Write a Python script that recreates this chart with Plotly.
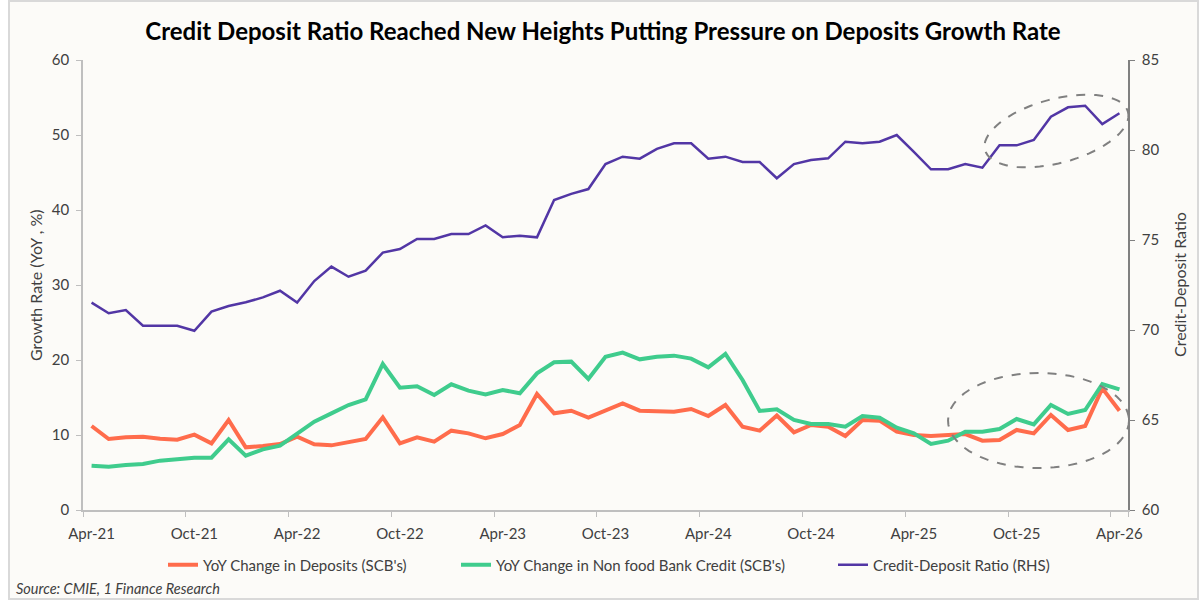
import math
import pandas as pd
import plotly.graph_objects as go

# ---------------- data ----------------
months = [d.strftime("%b-%y") for d in pd.date_range("2021-04-01", "2026-04-01", freq="MS")]
tick_labels = ["Apr-21", "Oct-21", "Apr-22", "Oct-22", "Apr-23", "Oct-23",
               "Apr-24", "Oct-24", "Apr-25", "Oct-25", "Apr-26"]

deposits_yoy = [11.2, 9.47, 9.69, 9.78, 9.51, 9.38, 10.04, 8.89, 12.0, 8.36,
                8.53, 8.8, 9.78, 8.76, 8.62, 9.11, 9.47, 12.36, 8.89, 9.7,
                9.11, 10.58, 10.22, 9.56, 10.13, 11.33, 15.47, 12.89, 13.24, 12.31,
                13.24, 14.22, 13.24, 13.24, 13.11, 13.47, 12.53, 14.0, 11.11, 10.58,
                12.6, 10.36, 11.33, 11.11, 9.87, 12.0, 11.91, 10.44, 10.0, 9.87,
                10.0, 10.13, 9.24, 9.33, 10.67, 10.22, 12.67, 10.67, 11.2, 16.22,
                13.24]

credit_yoy = [5.91, 5.78, 6.0, 6.13, 6.58, 6.76, 6.98, 6.98, 9.42, 7.24,
              8.09, 8.58, 10.22, 11.78, 12.89, 14.0, 14.76, 19.47, 16.31, 16.5,
              15.33, 16.76, 15.91, 15.42, 16.0, 15.56, 18.22, 19.69, 19.78, 17.47,
              20.44, 20.98, 20.09, 20.44, 20.58, 20.18, 19.02, 20.8, 17.33, 13.2,
              13.42, 12.0, 11.47, 11.47, 11.11, 12.53, 12.31, 10.98, 10.22, 8.8,
              9.24, 10.44, 10.44, 10.8, 12.13, 11.42, 14.0, 12.8, 13.33, 16.8,
              16.09]

cd_ratio = [71.52, 70.93, 71.11, 70.24, 70.24, 70.24, 69.96, 71.02, 71.33, 71.54,
            71.81, 72.18, 71.52, 72.72, 73.52, 72.96, 73.3, 74.3, 74.5, 75.06,
            75.06, 75.33, 75.33, 75.81, 75.15, 75.24, 75.15, 77.22, 77.56, 77.83,
            79.22, 79.63, 79.52, 80.06, 80.37, 80.37, 79.52, 79.63, 79.33, 79.33,
            78.43, 79.22, 79.44, 79.54, 80.46, 80.37, 80.46, 80.83, 79.89, 78.93,
            78.93, 79.22, 79.02, 80.26, 80.26, 80.56, 81.85, 82.37, 82.46, 81.44,
            82.04]

# ---------------- layout constants ----------------
W, H = 1200, 608
ML, MR, MT, MB = 83, 72, 60, 98
PW, PH = W - ML - MR, H - MT - MB

def px_to_paper(px, py):
    return (px - ML) / PW, (H - MB - py) / PH

def ellipse_path(cx, cy, a, b, ang_deg, n=72):
    th = math.radians(ang_deg)
    pts = []
    for k in range(n + 1):
        t = 2 * math.pi * k / n
        x = cx + a * math.cos(t) * math.cos(th) - b * math.sin(t) * math.sin(th)
        y = cy + a * math.cos(t) * math.sin(th) + b * math.sin(t) * math.cos(th)
        pts.append(px_to_paper(x, y))
    return "M " + " L ".join(f"{x:.4f},{y:.4f}" for x, y in pts) + " Z"

RED = "#FF6C4C"
GREEN = "#3FCC8D"
PURPLE = "#5236A5"
TXT = "#404040"
FONT = "Lato"

fig = go.Figure()
fig.add_trace(go.Scatter(x=months, y=deposits_yoy, mode="lines",
                         name="YoY Change in Deposits (SCB's)", legend="legend",
                         showlegend=True,
                         line=dict(color=RED, width=4)))
fig.add_trace(go.Scatter(x=months, y=credit_yoy, mode="lines",
                         name="YoY Change in Non food Bank Credit (SCB's)", legend="legend2",
                         showlegend=True,
                         line=dict(color=GREEN, width=4)))
fig.add_trace(go.Scatter(x=months, y=cd_ratio, mode="lines",
                         name="Credit-Deposit Ratio (RHS)", yaxis="y2", legend="legend3",
                         showlegend=True,
                         line=dict(color=PURPLE, width=2.5)))

bx0, by0 = px_to_paper(9, 599)
bx1, by1 = px_to_paper(1198, 1)

shapes = [
    dict(type="rect", xref="paper", yref="paper", x0=bx0, y0=by0, x1=bx1, y1=by1,
         line=dict(color="#D9D9D9", width=2), fillcolor="#FCFBF8", layer="below"),
    dict(type="path", xref="paper", yref="paper",
         path=ellipse_path(1056.5, 131, 74, 32, -14.9),
         line=dict(color="#808080", width=2, dash="dash")),
    dict(type="path", xref="paper", yref="paper",
         path=ellipse_path(1038.5, 420.5, 90.5, 47.5, 0),
         line=dict(color="#808080", width=2, dash="dash")),
]

lx, _ = px_to_paper(35, 0)
rx, _ = px_to_paper(1179, 0)
_, ty = px_to_paper(0, 285)
sx, sy = px_to_paper(14, 588)

annotations = [
    dict(text="Growth Rate (YoY , %)", xref="paper", yref="paper", x=lx, y=ty,
         xanchor="center", yanchor="middle",
         textangle=-90, showarrow=False, font=dict(family=FONT, size=16, color=TXT)),
    dict(text="Credit-Deposit Ratio", xref="paper", yref="paper", x=rx, y=ty,
         xanchor="center", yanchor="middle",
         textangle=-90, showarrow=False, font=dict(family=FONT, size=16, color=TXT)),
    dict(text="<i>Source: CMIE, 1 Finance Research</i>", xref="paper", yref="paper",
         x=sx, y=sy, xanchor="left", yanchor="middle", showarrow=False,
         font=dict(family=FONT, size=14.5, color=TXT)),
]

_, leg_y = px_to_paper(0, 565)
def leg(px_text_start):
    x, _ = px_to_paper(px_text_start - 40, 0)
    return dict(orientation="h", x=x, xanchor="left", y=leg_y, yanchor="middle",
                bgcolor="rgba(0,0,0,0)", borderwidth=0,
                font=dict(family=FONT, size=15, color=TXT))

fig.update_layout(
    width=W, height=H,
    margin=dict(l=ML, r=MR, t=MT, b=MB),
    showlegend=True,
    paper_bgcolor="white",
    plot_bgcolor="rgba(0,0,0,0)",
    title=dict(text="<b>Credit Deposit Ratio Reached New Heights Putting Pressure on Deposits Growth Rate</b>",
               x=603 / W, xanchor="center", y=1 - 32 / H, yanchor="middle",
               font=dict(family=FONT, size=24, color="black")),
    xaxis=dict(type="category", categoryorder="array", categoryarray=months,
               tickmode="array", tickvals=tick_labels, ticktext=tick_labels,
               tickson="boundaries", tickangle=0,
               range=[-0.5, len(months) - 0.5],
               showgrid=False, zeroline=False, showline=True, linecolor="#BFBFBF",
               linewidth=1.5, ticks="outside", ticklen=5, tickcolor="#BFBFBF",
               ticklabelstandoff=9,
               tickfont=dict(family=FONT, size=15, color=TXT)),
    yaxis=dict(range=[0, 60], dtick=10, showgrid=False, zeroline=False,
               showline=True, linecolor="#BFBFBF", linewidth=1.5,
               ticks="outside", ticklen=5, tickcolor="#BFBFBF",
               ticklabelstandoff=4,
               tickfont=dict(family=FONT, size=15, color=TXT)),
    yaxis2=dict(range=[60, 85], dtick=5, overlaying="y", side="right",
                showgrid=False, zeroline=False, showline=True, linecolor="#808080",
                linewidth=1.5, ticks="outside", ticklen=5, tickcolor="#808080",
                ticklabelstandoff=4,
                tickfont=dict(family=FONT, size=15, color=TXT)),
    legend=leg(203),
    legend2=leg(496),
    legend3=leg(873),
    shapes=shapes,
    annotations=annotations,
)

fig.write_html("out.html", config={"displayModeBar": False},
               post_script="document.body.style.margin='0';")
